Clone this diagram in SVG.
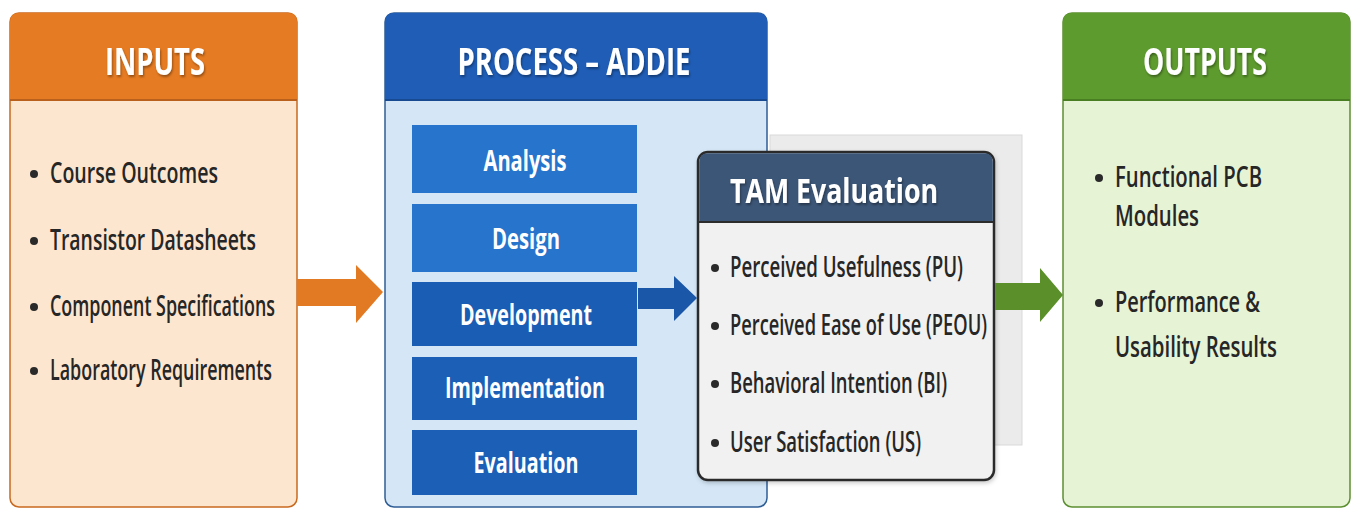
<svg xmlns="http://www.w3.org/2000/svg" width="1352" height="508" viewBox="0 0 1352 508">
<defs>
<filter id="ts" x="-10%" y="-20%" width="120%" height="150%"><feDropShadow dx="1" dy="2" stdDeviation="1" flood-color="#000" flood-opacity="0.35"/></filter>
<filter id="bs" x="-10%" y="-10%" width="120%" height="120%"><feDropShadow dx="1" dy="2" stdDeviation="2" flood-color="#000" flood-opacity="0.2"/></filter>
</defs>
<style>
text{font-family:"Open Sans","Noto Sans","DejaVu Sans",sans-serif;}
.hd{font-size:38px;font-weight:700;fill:#fff;text-anchor:middle;}
.it{font-size:28px;font-weight:600;fill:#262626;}
.st{font-size:28px;font-weight:700;fill:#fff;text-anchor:middle;}
.bul{fill:#2a2a2a;}
</style>
<rect width="1352" height="508" fill="#fff"/>

<g id="inputs">
<rect x="10" y="13" width="287" height="494" rx="9" fill="#FDE6CF" stroke="#C9691F" stroke-width="1.5"/>
<path d="M10,100 V22 Q10,13 19,13 H288 Q297,13 297,22 V100 Z" fill="#E57B22"/>
<line x1="10" y1="100" x2="297" y2="100" stroke="#B8601C" stroke-width="2"/>
<text class="hd" x="155" y="75" textLength="100" lengthAdjust="spacingAndGlyphs" filter="url(#ts)">INPUTS</text>
<circle class="bul" cx="34" cy="174" r="4"/>
<text class="it" x="50" y="183" textLength="168" lengthAdjust="spacingAndGlyphs">Course Outcomes</text>
<circle class="bul" cx="34" cy="241" r="4"/>
<text class="it" x="50" y="250" textLength="206" lengthAdjust="spacingAndGlyphs">Transistor Datasheets</text>
<circle class="bul" cx="34" cy="307" r="4"/>
<text class="it" x="50" y="316" textLength="225" lengthAdjust="spacingAndGlyphs">Component Specifications</text>
<circle class="bul" cx="34" cy="371" r="4"/>
<text class="it" x="50" y="380" textLength="222" lengthAdjust="spacingAndGlyphs">Laboratory Requirements</text>
</g>

<g id="process">
<rect x="385" y="13" width="382" height="494" rx="9" fill="#D5E7F7" stroke="#2F5E95" stroke-width="1.5"/>
<path d="M385,100 V22 Q385,13 394,13 H758 Q767,13 767,22 V100 Z" fill="#1F5DB6"/>
<line x1="385" y1="100" x2="767" y2="100" stroke="#174A90" stroke-width="2"/>
<text class="hd" x="574" y="75" textLength="233" lengthAdjust="spacingAndGlyphs" filter="url(#ts)">PROCESS – ADDIE</text>
</g>

<g id="analysis">
<rect x="412" y="125" width="225" height="68" fill="#2674CC"/>
<text class="st" x="525" y="171" textLength="83" lengthAdjust="spacingAndGlyphs">Analysis</text>
</g>
<g id="design">
<rect x="412" y="204" width="225" height="68" fill="#2674CC"/>
<text class="st" x="526" y="249" textLength="68" lengthAdjust="spacingAndGlyphs">Design</text>
</g>
<g id="development">
<rect x="412" y="282" width="225" height="64" fill="#1A5DB4"/>
<text class="st" x="526" y="325" textLength="132" lengthAdjust="spacingAndGlyphs">Development</text>
</g>
<g id="implementation">
<rect x="412" y="357" width="225" height="63" fill="#1B5FB6"/>
<text class="st" x="525" y="398" textLength="160" lengthAdjust="spacingAndGlyphs">Implementation</text>
</g>
<g id="evaluation">
<rect x="412" y="430" width="225" height="65" fill="#1B5FB6"/>
<text class="st" x="526" y="473" textLength="105" lengthAdjust="spacingAndGlyphs">Evaluation</text>
</g>

<g id="tam">
<rect x="770" y="135" width="252" height="310" fill="#EBEBEB" stroke="#D9D9D9" stroke-width="1"/>
<rect x="698" y="152" width="296" height="328" rx="10" fill="#F1F1F1" stroke="#2C2C2C" stroke-width="2.5" filter="url(#bs)"/>
<path d="M699.2,222 V162 Q699.2,153.2 708,153.2 H984 Q992.8,153.2 992.8,162 V222 Z" fill="#3C5677"/>
<line x1="698" y1="222" x2="994" y2="222" stroke="#2C2C2C" stroke-width="2"/>
<text x="834" y="203" text-anchor="middle" font-size="34" font-weight="700" fill="#fff" textLength="208" lengthAdjust="spacingAndGlyphs" filter="url(#ts)">TAM Evaluation</text>
<circle class="bul" cx="715" cy="268" r="4"/>
<text class="it" x="730" y="277" textLength="233" lengthAdjust="spacingAndGlyphs">Perceived Usefulness (PU)</text>
<circle class="bul" cx="715" cy="326" r="4"/>
<text class="it" x="730" y="335" textLength="257" lengthAdjust="spacingAndGlyphs">Perceived Ease of Use (PEOU)</text>
<circle class="bul" cx="715" cy="384" r="4"/>
<text class="it" x="730" y="393" textLength="217" lengthAdjust="spacingAndGlyphs">Behavioral Intention (BI)</text>
<circle class="bul" cx="715" cy="443" r="4"/>
<text class="it" x="730" y="452" textLength="191" lengthAdjust="spacingAndGlyphs">User Satisfaction (US)</text>
</g>

<g id="outputs">
<rect x="1063" y="13" width="287" height="494" rx="9" fill="#E7F3D5" stroke="#5C8F32" stroke-width="1.5"/>
<path d="M1063,100 V22 Q1063,13 1072,13 H1341 Q1350,13 1350,22 V100 Z" fill="#5E9B2E"/>
<line x1="1063" y1="100" x2="1350" y2="100" stroke="#4A7E22" stroke-width="2"/>
<text class="hd" x="1205" y="75" textLength="124" lengthAdjust="spacingAndGlyphs" filter="url(#ts)">OUTPUTS</text>
<circle class="bul" cx="1099" cy="178" r="4"/>
<text class="it" x="1115" y="187" textLength="147" lengthAdjust="spacingAndGlyphs">Functional PCB</text>
<text class="it" x="1115" y="226" textLength="84" lengthAdjust="spacingAndGlyphs">Modules</text>
<circle class="bul" cx="1099" cy="303" r="4"/>
<text class="it" x="1115" y="312" textLength="145" lengthAdjust="spacingAndGlyphs">Performance &amp;</text>
<text class="it" x="1115" y="357" textLength="162" lengthAdjust="spacingAndGlyphs">Usability Results</text>
</g>

<g id="connectors">
<polygon points="297,279 356,279 356,265 383,292 356,323 356,306 297,306" fill="#E27A24"/>
<polygon points="638,288 674,288 674,276 697,298 674,321 674,309 638,309" fill="#1A57A8"/>
<polygon points="995,283 1040,283 1040,268 1063,295 1040,322 1040,310 995,310" fill="#5B8F2A"/>
</g>
</svg>
